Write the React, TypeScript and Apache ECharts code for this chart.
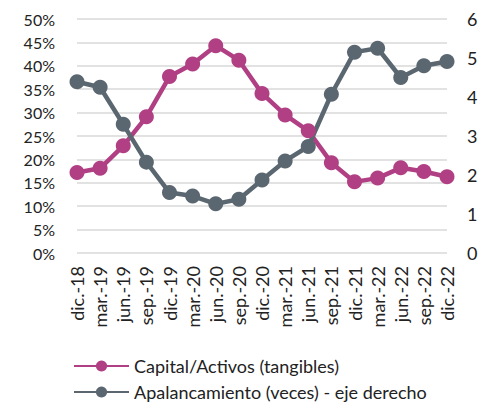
import React, { useEffect, useRef } from "react";
import * as echarts from "echarts";

const categories = ["dic.-18","mar.-19","jun.-19","sep.-19","dic.-19","mar.-20","jun.-20","sep.-20","dic.-20","mar.-21","jun.-21","sep.-21","dic.-21","mar.-22","jun.-22","sep.-22","dic.-22"];
const capitalActivos = [17.2,18.1,22.9,29.1,37.7,40.4,44.3,41.2,34.1,29.5,26.1,19.3,15.2,16.0,18.2,17.4,16.3];
const apalancamiento = [4.39,4.25,3.30,2.33,1.55,1.46,1.26,1.38,1.87,2.36,2.73,4.07,5.15,5.25,4.50,4.80,4.91];
const leftTicks = { min: 0, max: 50, interval: 5 };
const rightTicks = { min: 0, max: 6, interval: 1 };
const seriesNames = ["Capital/Activos (tangibles)", "Apalancamiento (veces) - eje derecho"];

const FONT = "Lato";

export default function App() {
  const ref = useRef<HTMLDivElement>(null);
  useEffect(() => {
    const chart = echarts.init(ref.current!, null, { renderer: "svg" });
    const legendBase = {
      left: 73,
      padding: 0,
      itemWidth: 55,
      itemHeight: 14,
      textStyle: { fontFamily: FONT, fontSize: 18, color: "#222" },
    };
    chart.setOption({
      animation: false,
      textStyle: { fontFamily: FONT },
      grid: { left: 77, right: 44, top: 19, bottom: 150 },
      legend: [
        { ...legendBase, top: 357, data: [seriesNames[0]] },
        { ...legendBase, top: 383, data: [seriesNames[1]] },
      ],
      xAxis: {
        type: "category",
        data: categories,
        boundaryGap: false,
        axisLine: { show: false },
        axisTick: { show: false },
        axisLabel: { rotate: 90, fontSize: 18, color: "#222", fontFamily: FONT, margin: 13, interval: 0 },
      },
      yAxis: [
        {
          type: "value",
          ...leftTicks,
          axisLabel: { formatter: "{value}%", fontSize: 16, color: "#222", fontFamily: FONT, margin: 22 },
          splitLine: { lineStyle: { color: "#d9d9d9", width: 1.5 } },
          axisLine: { show: false },
          axisTick: { show: false },
        },
        {
          type: "value",
          ...rightTicks,
          position: "right",
          axisLabel: { fontSize: 18, color: "#222", fontFamily: FONT, margin: 20 },
          splitLine: { show: false },
          axisLine: { show: false },
          axisTick: { show: false },
        },
      ],
      series: [
        {
          name: seriesNames[0],
          type: "line",
          data: capitalActivos,
          yAxisIndex: 0,
          symbol: "circle",
          symbolSize: 15,
          lineStyle: { width: 4.5, color: "#B03F84" },
          itemStyle: { color: "#B03F84" },
        },
        {
          name: seriesNames[1],
          type: "line",
          data: apalancamiento,
          yAxisIndex: 1,
          symbol: "circle",
          symbolSize: 15,
          lineStyle: { width: 4.5, color: "#5B6770" },
          itemStyle: { color: "#5B6770" },
        },
      ],
    });
    return () => chart.dispose();
  }, []);
  return <div ref={ref} style={{ width: 491, height: 403, position: "absolute", left: 0, top: 0 }} />;
}
